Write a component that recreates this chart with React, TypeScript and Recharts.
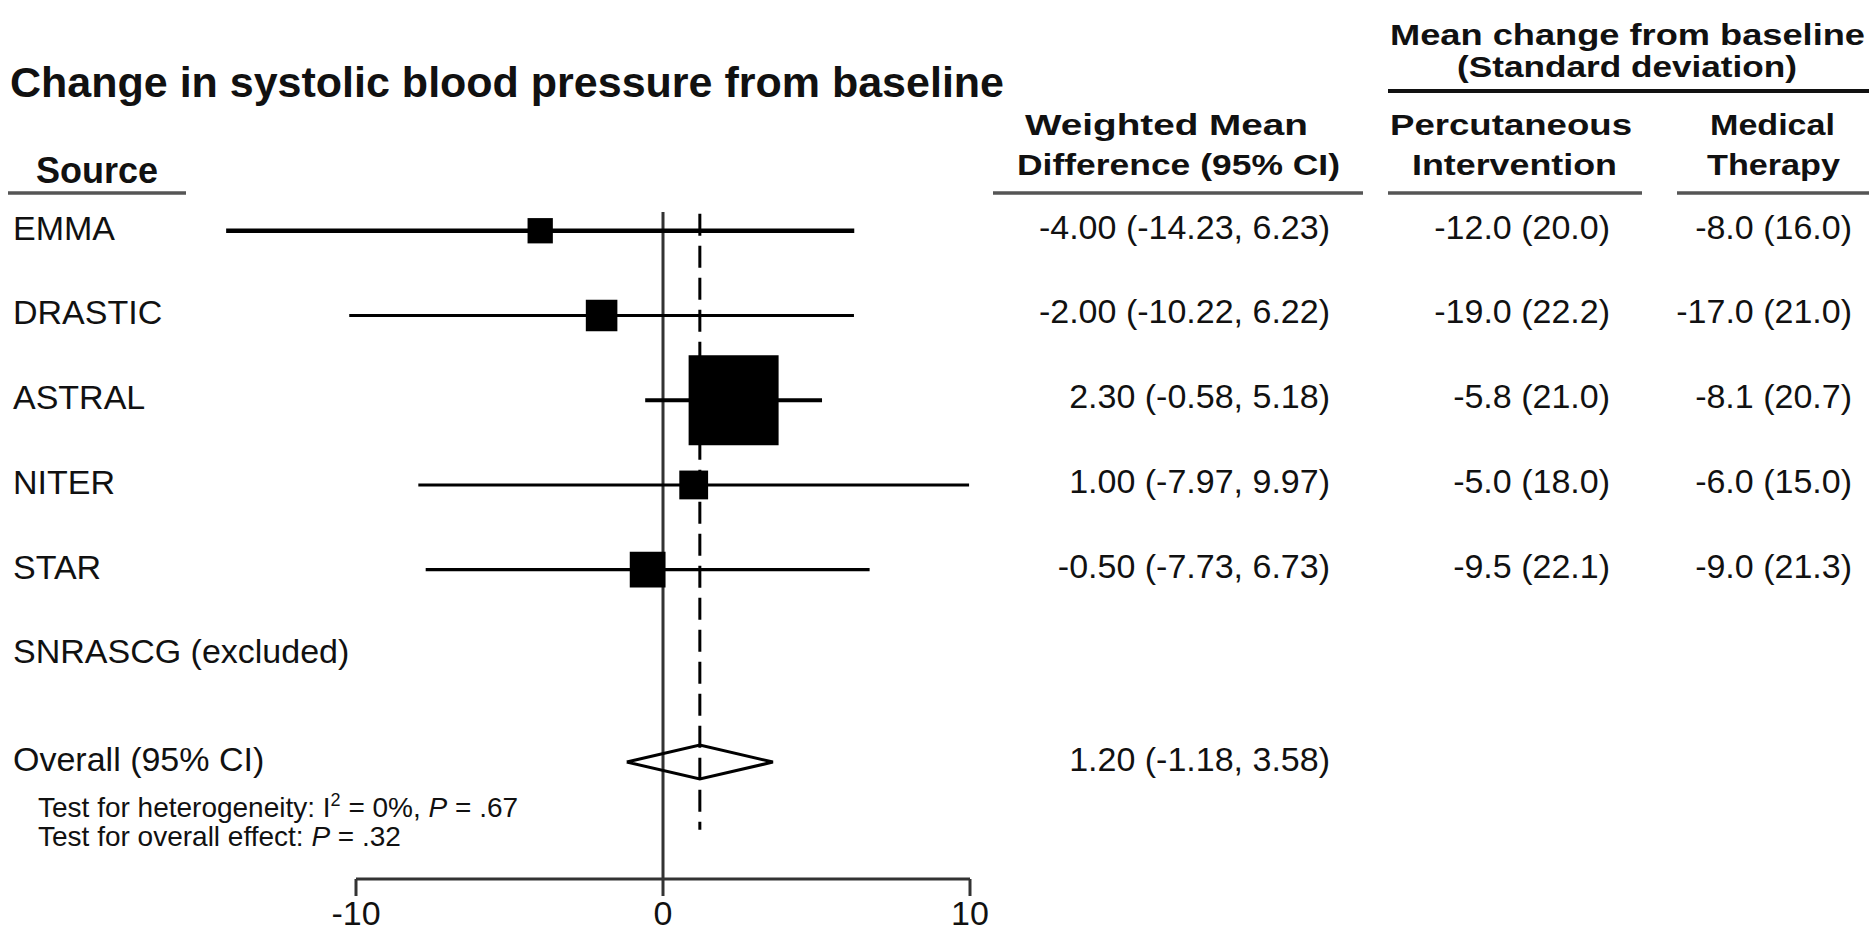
import React from 'react';
import { ScatterChart, Scatter, XAxis, YAxis, ZAxis, ReferenceLine } from 'recharts';

// study rows, top to bottom
const studies = ['EMMA', 'DRASTIC', 'ASTRAL', 'NITER', 'STAR'];
const excludedStudy = 'SNRASCG (excluded)';

// weighted mean difference and 95% CI
const estimates = [-4.0, -2.0, 2.3, 1.0, -0.5];
const lower = [-14.23, -10.22, -0.58, -7.97, -7.73];
const upper = [6.23, 6.22, 5.18, 9.97, 6.73];
const weights = [5.4, 8.4, 68.3, 7.0, 10.8]; // % weight -> box area

// mean change from baseline (SD)
const pciMean = [-12.0, -19.0, -5.8, -5.0, -9.5];
const pciSd = [20.0, 22.2, 21.0, 18.0, 22.1];
const medMean = [-8.0, -17.0, -8.1, -6.0, -9.0];
const medSd = [16.0, 21.0, 20.7, 15.0, 21.3];

const overallEst = 1.2;
const overallLo = -1.18;
const overallHi = 3.58;
const hetI2 = '0%';
const hetP = '.67';
const overallP = '.32';

const xTicks = [-10, 0, 10];

const FONT = '"Liberation Sans", Arial, Helvetica, sans-serif';
const W = 1869;
const H = 935;
const EXCLUDED_ROW = 5;
const OVERALL_ROW = 6.27;
const DIAMOND_HALF = 0.2;
const ciWidth = [4.5, 3, 4, 3, 3.3];

const squares = studies.map((name, i) => ({ name, x: estimates[i], y: i, weight: weights[i] }));
const diamond = [
    { x: overallLo, y: OVERALL_ROW },
    { x: overallEst, y: OVERALL_ROW - DIAMOND_HALF },
    { x: overallHi, y: OVERALL_ROW },
    { x: overallEst, y: OVERALL_ROW + DIAMOND_HALF },
    { x: overallLo, y: OVERALL_ROW },
];
const rowTicks = [0, 1, 2, 3, 4, EXCLUDED_ROW, OVERALL_ROW];

const fmtCi = (e: number, l: number, h: number) => `${e.toFixed(2)} (${l.toFixed(2)}, ${h.toFixed(2)})`;
const fmtSd = (m: number, s: number) => `${m.toFixed(1)} (${s.toFixed(1)})`;

const LeftTick = (props: any) => {
    const { y, payload } = props;
    const v = payload.value;
    if (v === OVERALL_ROW) {
        return (
            <g fontFamily={FONT} fill="#111">
                <text x={13} y={y + 9} fontSize={34}>Overall (95% CI)</text>
                <text x={38} y={y + 55} fontSize={28}>
                    Test for heterogeneity: I
                    <tspan fontSize={18} dy={-11}>2</tspan>
                    <tspan dy={11}> = {hetI2}, </tspan>
                    <tspan fontStyle="italic">P</tspan> = {hetP}
                </text>
                <text x={38} y={y + 84} fontSize={28}>
                    Test for overall effect: <tspan fontStyle="italic">P</tspan> = {overallP}
                </text>
            </g>
        );
    }
    const label = v === EXCLUDED_ROW ? excludedStudy : studies[v];
    return (
        <text x={13} y={y + 9} fontSize={34} fontFamily={FONT} fill="#111">
            {label}
        </text>
    );
};

const RightTick = (props: any) => {
    const { y, payload } = props;
    const v = payload.value;
    if (v === OVERALL_ROW) {
        return (
            <text x={1330} y={y + 9} fontSize={34} fontFamily={FONT} fill="#111" textAnchor="end">
                {fmtCi(overallEst, overallLo, overallHi)}
            </text>
        );
    }
    if (v >= studies.length) return <g />;
    return (
        <g fontFamily={FONT} fill="#111" fontSize={34} textAnchor="end">
            <text x={1330} y={y + 8}>{fmtCi(estimates[v], lower[v], upper[v])}</text>
            <text x={1610} y={y + 8}>{fmtSd(pciMean[v], pciSd[v])}</text>
            <text x={1852} y={y + 8}>{fmtSd(medMean[v], medSd[v])}</text>
        </g>
    );
};

const Headers = () => (
    <svg width={W} height={H} style={{ position: 'absolute', left: 0, top: 0, pointerEvents: 'none' }}>
        <g fontFamily={FONT} fill="#111" fontWeight="bold">
            <text x={10} y={97} fontSize={43}>Change in systolic blood pressure from baseline</text>
            <text x={97} y={183} fontSize={36} textAnchor="middle">Source</text>

            <text x={1390} y={45} fontSize={29} textLength={475} lengthAdjust="spacingAndGlyphs">Mean change from baseline</text>
            <text x={1457} y={77} fontSize={29} textLength={340} lengthAdjust="spacingAndGlyphs">(Standard deviation)</text>

            <text x={1025} y={135} fontSize={29} textLength={283} lengthAdjust="spacingAndGlyphs">Weighted Mean</text>
            <text x={1017} y={175} fontSize={29} textLength={323} lengthAdjust="spacingAndGlyphs">Difference (95% CI)</text>

            <text x={1390} y={135} fontSize={29} textLength={242} lengthAdjust="spacingAndGlyphs">Percutaneous</text>
            <text x={1412} y={175} fontSize={29} textLength={205} lengthAdjust="spacingAndGlyphs">Intervention</text>

            <text x={1710} y={135} fontSize={29} textLength={125} lengthAdjust="spacingAndGlyphs">Medical</text>
            <text x={1707} y={175} fontSize={29} textLength={133} lengthAdjust="spacingAndGlyphs">Therapy</text>
        </g>
        <line x1={8} x2={186} y1={193} y2={193} stroke="#555" strokeWidth={3.5} />
        <line x1={993} x2={1363} y1={193} y2={193} stroke="#555" strokeWidth={3.5} />
        <line x1={1388} x2={1642} y1={193} y2={193} stroke="#555" strokeWidth={3.5} />
        <line x1={1677} x2={1869} y1={193} y2={193} stroke="#555" strokeWidth={3.5} />
        <line x1={1388} x2={1869} y1={91} y2={91} stroke="#111" strokeWidth={4} />
    </svg>
);

const App: React.FC = () => {
    return (
        <div style={{ position: 'absolute', left: 0, top: 0, width: W, height: H, background: '#fff' }}>
            <ScatterChart width={W} height={H} margin={{ top: 146, right: 0, bottom: 0, left: 0 }}>
                <XAxis
                    type="number"
                    dataKey="x"
                    domain={[-10, 10]}
                    allowDataOverflow
                    ticks={xTicks}
                    height={56}
                    tickSize={17}
                    tickMargin={5}
                    axisLine={{ stroke: '#333', strokeWidth: 3 }}
                    tickLine={{ stroke: '#333', strokeWidth: 3 }}
                    tick={{ fontSize: 34, fill: '#111', fontFamily: FONT }}
                />
                <YAxis
                    yAxisId="left"
                    type="number"
                    dataKey="y"
                    domain={[-1, 7.65]}
                    allowDataOverflow
                    reversed
                    width={356}
                    ticks={rowTicks}
                    interval={0}
                    axisLine={false}
                    tickLine={false}
                    tick={LeftTick}
                />
                <YAxis
                    yAxisId="right"
                    orientation="right"
                    type="number"
                    domain={[-1, 7.65]}
                    allowDataOverflow
                    reversed
                    width={899}
                    ticks={rowTicks}
                    interval={0}
                    axisLine={false}
                    tickLine={false}
                    tick={RightTick}
                />
                <ZAxis type="number" dataKey="weight" domain={[0, 70]} range={[0, 8300]} />

                {/* line of no effect and pooled estimate */}
                <ReferenceLine
                    yAxisId="left"
                    ifOverflow="visible"
                    segment={[{ x: 0, y: -0.22 }, { x: 0, y: 7.65 }]}
                    stroke="#333"
                    strokeWidth={3}
                />
                <ReferenceLine
                    yAxisId="left"
                    ifOverflow="visible"
                    segment={[{ x: overallEst, y: -0.2 }, { x: overallEst, y: 7.07 }]}
                    stroke="#000"
                    strokeWidth={3}
                    strokeDasharray="22 10"
                />

                {studies.map((s, i) => (
                    <ReferenceLine
                        key={s}
                        yAxisId="left"
                        ifOverflow="visible"
                        segment={[{ x: lower[i], y: i }, { x: upper[i], y: i }]}
                        stroke="#000"
                        strokeWidth={ciWidth[i]}
                    />
                ))}

                <Scatter yAxisId="left" data={squares} shape="square" fill="#000" isAnimationActive={false} />
                <Scatter
                    yAxisId="left"
                    data={diamond}
                    fill="none"
                    line={{ stroke: '#000', strokeWidth: 3, fill: 'none' }}
                    lineJointType="linear"
                    shape={() => <g />}
                    isAnimationActive={false}
                />
            </ScatterChart>
            <Headers />
        </div>
    );
};

export default App;
